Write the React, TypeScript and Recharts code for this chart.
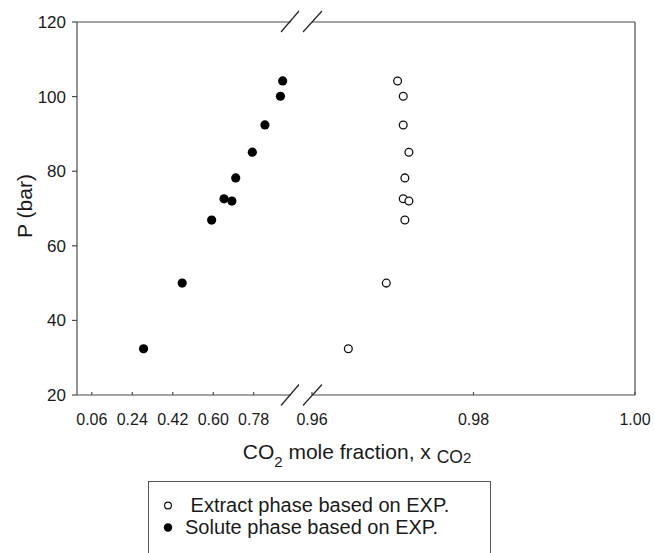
import { Legend, Scatter, ScatterChart, XAxis, YAxis } from "recharts";

// P (bar), shared by both phases
const pressure = [104.2, 100.1, 92.4, 85.1, 78.2, 72.6, 72.0, 66.9, 50.0, 32.4];
// CO2 mole fraction, extract phase (open circles)
const extractX = [0.9706, 0.9713, 0.9713, 0.972, 0.9715, 0.9713, 0.972, 0.9715, 0.9692, 0.9645];
// CO2 mole fraction, solute phase (filled circles)
const soluteX = [0.909, 0.899, 0.83, 0.774, 0.7, 0.648, 0.683, 0.593, 0.462, 0.29];

const leftTicks = [0.06, 0.24, 0.42, 0.6, 0.78];
const rightTicks = [0.96, 0.98, 1.0];
const yTicks = [20, 40, 60, 80, 100, 120];

const extractName = " Extract phase based on EXP.";
const soluteName = "Solute phase based on EXP.";

const extractData = extractX.map((x, i) => ({ x, p: pressure[i] }));
const soluteData = soluteX.map((x, i) => ({ x, p: pressure[i] }));

const FONT = "'Liberation Sans', Arial, sans-serif";
const AXIS = "#4a4a4a";
const TEXT = "#1a1a1a";

const openDot = (props: any) => (
  <circle cx={props.cx} cy={props.cy} r={3.9} fill="#fff" stroke="#111" strokeWidth={1.3} />
);
const filledDot = (props: any) => <circle cx={props.cx} cy={props.cy} r={4.6} fill="#000" />;

const LegendBox = ({ payload }: any) => (
  <div
    style={{
      width: 343,
      height: 90,
      border: "1px solid #555",
      boxSizing: "border-box",
      background: "#fff",
      paddingTop: 13,
      fontFamily: FONT,
      fontSize: 20,
      color: TEXT,
    }}
  >
    {(payload || []).map((item: any) => (
      <div key={item.value} style={{ display: "flex", alignItems: "center", height: 21.5 }}>
        <svg width={36} height={21} style={{ flex: "none" }}>
          {item.value === extractName ? (
            <circle cx={19} cy={10.5} r={3.4} fill="#fff" stroke="#111" strokeWidth={1.2} />
          ) : (
            <circle cx={19} cy={10.5} r={4.2} fill="#000" />
          )}
        </svg>
        <span style={{ whiteSpace: "pre" }}>{item.value}</span>
      </div>
    ))}
  </div>
);

const xTick = { fontSize: 16, fill: TEXT, fontFamily: FONT };

export default function App() {
  return (
    <div style={{ position: "absolute", left: 0, top: 0, width: 655, height: 553, background: "#fff" }}>
      {/* left segment: 0 .. 0.95 */}
      <div style={{ position: "absolute", left: 0, top: 0 }}>
        <ScatterChart width={300} height={553} margin={{ top: 22, right: 9, left: 17, bottom: 128 }}>
          <XAxis
            dataKey="x"
            type="number"
            domain={[-0.006, 0.946]}
            ticks={leftTicks}
            allowDataOverflow
            tickFormatter={(v: number) => v.toFixed(2)}
            tick={xTick}
            tickSize={-3}
            tickMargin={22}
            stroke={AXIS}
            strokeWidth={1.2}
          />
          <YAxis
            dataKey="p"
            type="number"
            domain={[20, 120]}
            ticks={yTicks}
            width={60}
            tickSize={5}
            tickMargin={6}
            tick={{ fontSize: 17, fill: TEXT, fontFamily: FONT }}
            stroke={AXIS}
            strokeWidth={1.2}
          />
          <Scatter name={soluteName} data={soluteData} shape={filledDot} isAnimationActive={false} />
        </ScatterChart>
      </div>

      {/* right segment: 0.96 .. 1.00 */}
      <div style={{ position: "absolute", left: 0, top: 0 }}>
        <ScatterChart width={655} height={553} margin={{ top: 22, right: 19, left: 312, bottom: 128 }}>
          <XAxis
            dataKey="x"
            type="number"
            domain={[0.96, 1.0]}
            ticks={rightTicks}
            allowDataOverflow
            tickFormatter={(v: number) => v.toFixed(2)}
            tick={xTick}
            tickSize={-3}
            tickMargin={22}
            stroke={AXIS}
            strokeWidth={1.2}
          />
          <YAxis
            dataKey="p"
            type="number"
            orientation="right"
            domain={[20, 120]}
            ticks={yTicks}
            width={1}
            tick={false}
            tickLine={false}
            stroke={AXIS}
            strokeWidth={1.2}
          />
          <Scatter name={extractName} data={extractData} shape={openDot} isAnimationActive={false} />
          <Scatter name={soluteName} data={soluteData} shape={filledDot} isAnimationActive={false} />
          <Legend
            layout="vertical"
            align="center"
            verticalAlign="middle"
            wrapperStyle={{ left: 148, top: 481 }}
            content={LegendBox}
          />
        </ScatterChart>
      </div>

      {/* frame top edge, axis break marks and axis titles */}
      <svg
        width={655}
        height={553}
        style={{ position: "absolute", left: 0, top: 0, pointerEvents: "none" }}
        fontFamily={FONT}
      >
        <g stroke={AXIS} strokeWidth={1.2}>
          <line x1={77} y1={22} x2={291} y2={22} />
          <line x1={312} y1={22} x2={635} y2={22} />
        </g>
        <g stroke="#222" strokeWidth={1.2}>
          <line x1={281} y1={32} x2={299} y2={11} />
          <line x1={303} y1={32} x2={322} y2={11} />
          <line x1={281} y1={405.5} x2={299} y2={384.5} />
          <line x1={303} y1={405.5} x2={322} y2={384.5} />
        </g>
        <text x={357} y={459} textAnchor="middle" fontSize={21} fill={TEXT} style={{ whiteSpace: "pre" }}>
          <tspan>CO</tspan>
          <tspan fontSize={15} dy={8}>2</tspan>
          <tspan dy={-8}> mole fraction, x </tspan>
          <tspan fontSize={17.5} dy={4}>CO</tspan>
          <tspan fontSize={15}>2</tspan>
        </text>
        <text
          x={32}
          y={206}
          transform="rotate(-90 32 206)"
          textAnchor="middle"
          fontSize={21}
          fill={TEXT}
        >
          P (bar)
        </text>
      </svg>
    </div>
  );
}
